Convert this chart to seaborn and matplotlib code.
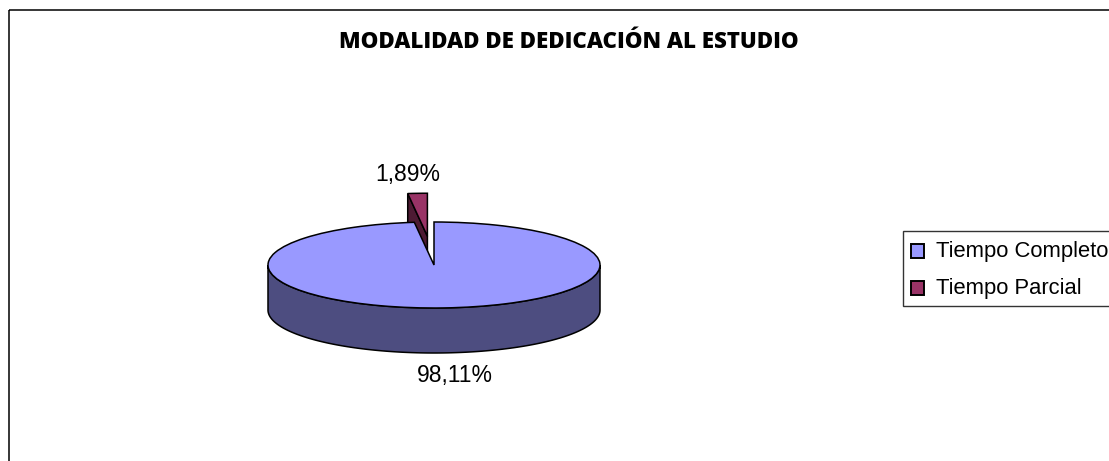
import numpy as np
import seaborn as sns
import matplotlib.pyplot as plt
from matplotlib.patches import Rectangle

categories = ['Tiempo Completo', 'Tiempo Parcial']
shares = [98.11, 1.89]
value_labels = ['98,11%', '1,89%']
title = 'MODALIDAD DE DEDICACIÓN AL ESTUDIO'

top_colors = ['#9999FF', '#993366']
wall_colors = ['#4D4D80', '#4D1A33']

W, H = 1109, 461
CX, CY = 434, 265   # pie centre in pixels
RX, RY = 166, 43    # ellipse radii in pixels
WALL = 45 / RY      # wall height in pie units
EXPLODE = 0.67

sns.set_theme(style='white')
plt.rcParams['font.family'] = ['Liberation Sans', 'DejaVu Sans']
plt.rcParams['text.color'] = 'black'

fig = plt.figure(figsize=(W / 100, H / 100), dpi=100, facecolor='white')
ax = fig.add_axes([0, 0, 1, 1])

# outer chart border, runs off the right and bottom of the image
fig.add_artist(Rectangle((8.5 / W, 1 - 10.5 / H), 1.2, -1.2, transform=fig.transFigure,
                         fill=False, edgecolor='black', linewidth=1.1))

wedges, _ = ax.pie(shares, colors=top_colors, startangle=90, counterclock=False,
                   explode=[0, EXPLODE], wedgeprops={'edgecolor': 'black', 'linewidth': 1.1})
ax.set_aspect('auto')
ax.set_xlim(-CX / RX, (W - CX) / RX)
ax.set_ylim(-(H - CY) / RY, CY / RY)
ax.axis('off')

# cut face of the pulled-out slice
gap = 2 * np.pi * shares[1] / sum(shares)
mid = gap / 2
ox, oy = -EXPLODE * np.sin(mid), EXPLODE * np.cos(mid)
ex, ey = -np.sin(gap), np.cos(gap)
ax.fill([ox, ox + ex, ox + ex, ox], [oy, oy + ey, oy + ey - WALL, oy - WALL],
        facecolor=wall_colors[1], edgecolor='black', linewidth=1.1, zorder=1)
wedges[1].set_zorder(2)

# front wall of the big slice
t = np.linspace(np.pi, 2 * np.pi, 200)
ax.fill(np.r_[np.cos(t), np.cos(t[::-1])], np.r_[np.sin(t), np.sin(t[::-1]) - WALL],
        facecolor=wall_colors[0], edgecolor='black', linewidth=1.1, zorder=3)
wedges[0].set_zorder(4)

fig.text(569 / W, 1 - 42 / H, title, ha='center', va='center', fontsize=16.0,
         fontweight='heavy', family=['Open Sans', 'DejaVu Sans'], color='black')
fig.text(455 / W, 1 - 375 / H, value_labels[0], ha='center', va='center', fontsize=16.5, color='black')
fig.text(408 / W, 1 - 174.5 / H, value_labels[1], ha='center', va='center', fontsize=16.5, color='black')

leg = ax.legend(wedges, categories, loc='upper left', bbox_to_anchor=(903 / W, 1 - 231 / H),
                bbox_transform=fig.transFigure, fontsize=15.85, frameon=True, fancybox=False,
                edgecolor='#333333', framealpha=1, borderaxespad=0, borderpad=0.38,
                handlelength=0.58, handleheight=0.58, handletextpad=0.55, labelspacing=0.72)
leg.get_frame().set_linewidth(1.0)
for handle in leg.legend_handles:
    handle.set_y(-2.0)
    handle.set_linewidth(1.4)
for label in leg.get_texts():
    label.set_y(-1.5)

fig.savefig('out.png', dpi=100)
